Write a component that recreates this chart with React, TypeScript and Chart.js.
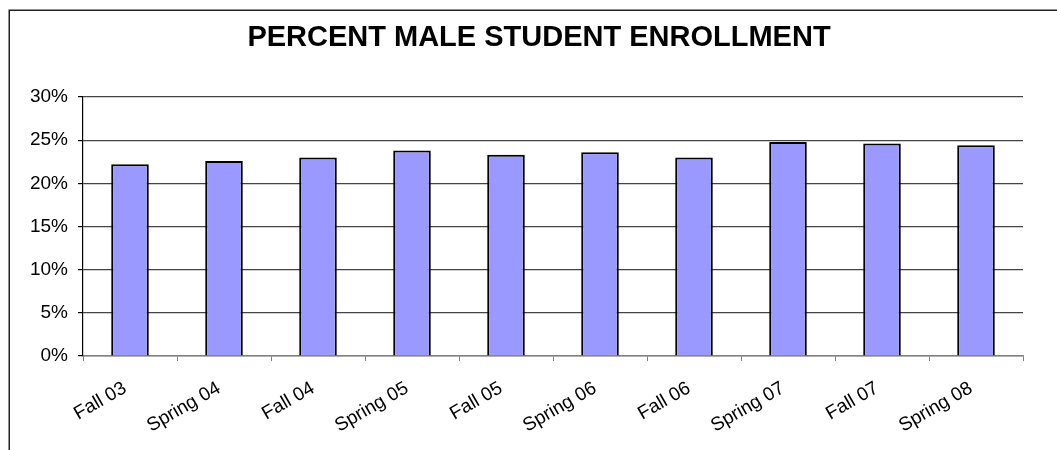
import React, { useEffect, useRef } from "react";
import { Chart, registerables } from "chart.js";

Chart.register(...registerables);

const TITLE = "PERCENT MALE STUDENT ENROLLMENT";
const categories = [
  "Fall 03",
  "Spring 04",
  "Fall 04",
  "Spring 05",
  "Fall 05",
  "Spring 06",
  "Fall 06",
  "Spring 07",
  "Fall 07",
  "Spring 08",
];
const malePercent = [22.2, 22.6, 23.0, 23.8, 23.3, 23.6, 23.0, 24.8, 24.6, 24.4];
const yTicks = [0, 5, 10, 15, 20, 25, 30];

const FONT = "'Liberation Sans', Arial, sans-serif";

const framePlugin = {
  id: "frameAndTitle",
  beforeDraw(chart: any) {
    const ctx = chart.ctx;
    ctx.save();
    ctx.fillStyle = "#ffffff";
    ctx.fillRect(0, 0, chart.width, chart.height);
    ctx.strokeStyle = "#222222";
    ctx.lineWidth = 1.5;
    ctx.strokeRect(9.25, 10.25, 3000, 3000);
    ctx.restore();
  },
  afterDraw(chart: any) {
    const ctx = chart.ctx;
    ctx.save();
    ctx.font = `bold 29px ${FONT}`;
    ctx.fillStyle = "#000000";
    ctx.textAlign = "center";
    ctx.textBaseline = "alphabetic";
    ctx.fillText(TITLE, 539, 46);
    ctx.restore();
  },
};

export default function App() {
  const canvasRef = useRef<HTMLCanvasElement | null>(null);

  useEffect(() => {
    if (!canvasRef.current) return;
    const chart = new Chart(canvasRef.current, {
      type: "bar",
      data: {
        labels: categories,
        datasets: [
          {
            label: "Percent male",
            data: malePercent,
            backgroundColor: "#9999FF",
            borderColor: "#000000",
            borderWidth: 2,
            barPercentage: 0.4,
            categoryPercentage: 1,
          },
        ],
      },
      options: {
        animation: false,
        responsive: true,
        maintainAspectRatio: false,
        layout: { padding: { top: 97, right: 34, bottom: 0, left: 0 } },
        plugins: {
          legend: { display: false },
          title: { display: false },
          tooltip: { enabled: false },
        },
        scales: {
          x: {
            afterFit: (s: any) => {
              s.height = 94;
            },
            grid: {
              display: true,
              drawOnChartArea: false,
              drawTicks: true,
              tickLength: 5,
              tickColor: "#808080",
              offset: true,
            },
            border: { display: true, color: "#808080", width: 1.5 },
            ticks: {
              color: "#000000",
              font: { family: FONT, size: 19 },
              minRotation: 30,
              maxRotation: 30,
              padding: 16,
              labelOffset: -5,
              autoSkip: false,
            },
          },
          y: {
            min: 0,
            max: 30,
            afterFit: (s: any) => {
              s.width = 83;
            },
            afterBuildTicks: (s: any) => {
              s.ticks = yTicks.map((v) => ({ value: v }));
            },
            grid: {
              color: (c: any) => (c.tick && c.tick.value === 0 ? "#808080" : "#444444"),
              lineWidth: 1.2,
              drawTicks: true,
              tickLength: 5,
              tickColor: "#000000",
            },
            border: { display: true, color: "#000000", width: 1.2 },
            ticks: {
              color: "#000000",
              font: { family: FONT, size: 19 },
              padding: 10,
              callback: (v: any) => `${v}%`,
            },
          },
        },
      },
      plugins: [framePlugin],
    });
    return () => chart.destroy();
  }, []);

  return (
    <div style={{ position: "absolute", left: 0, top: 0, width: 1057, height: 450 }}>
      <canvas ref={canvasRef} />
    </div>
  );
}
